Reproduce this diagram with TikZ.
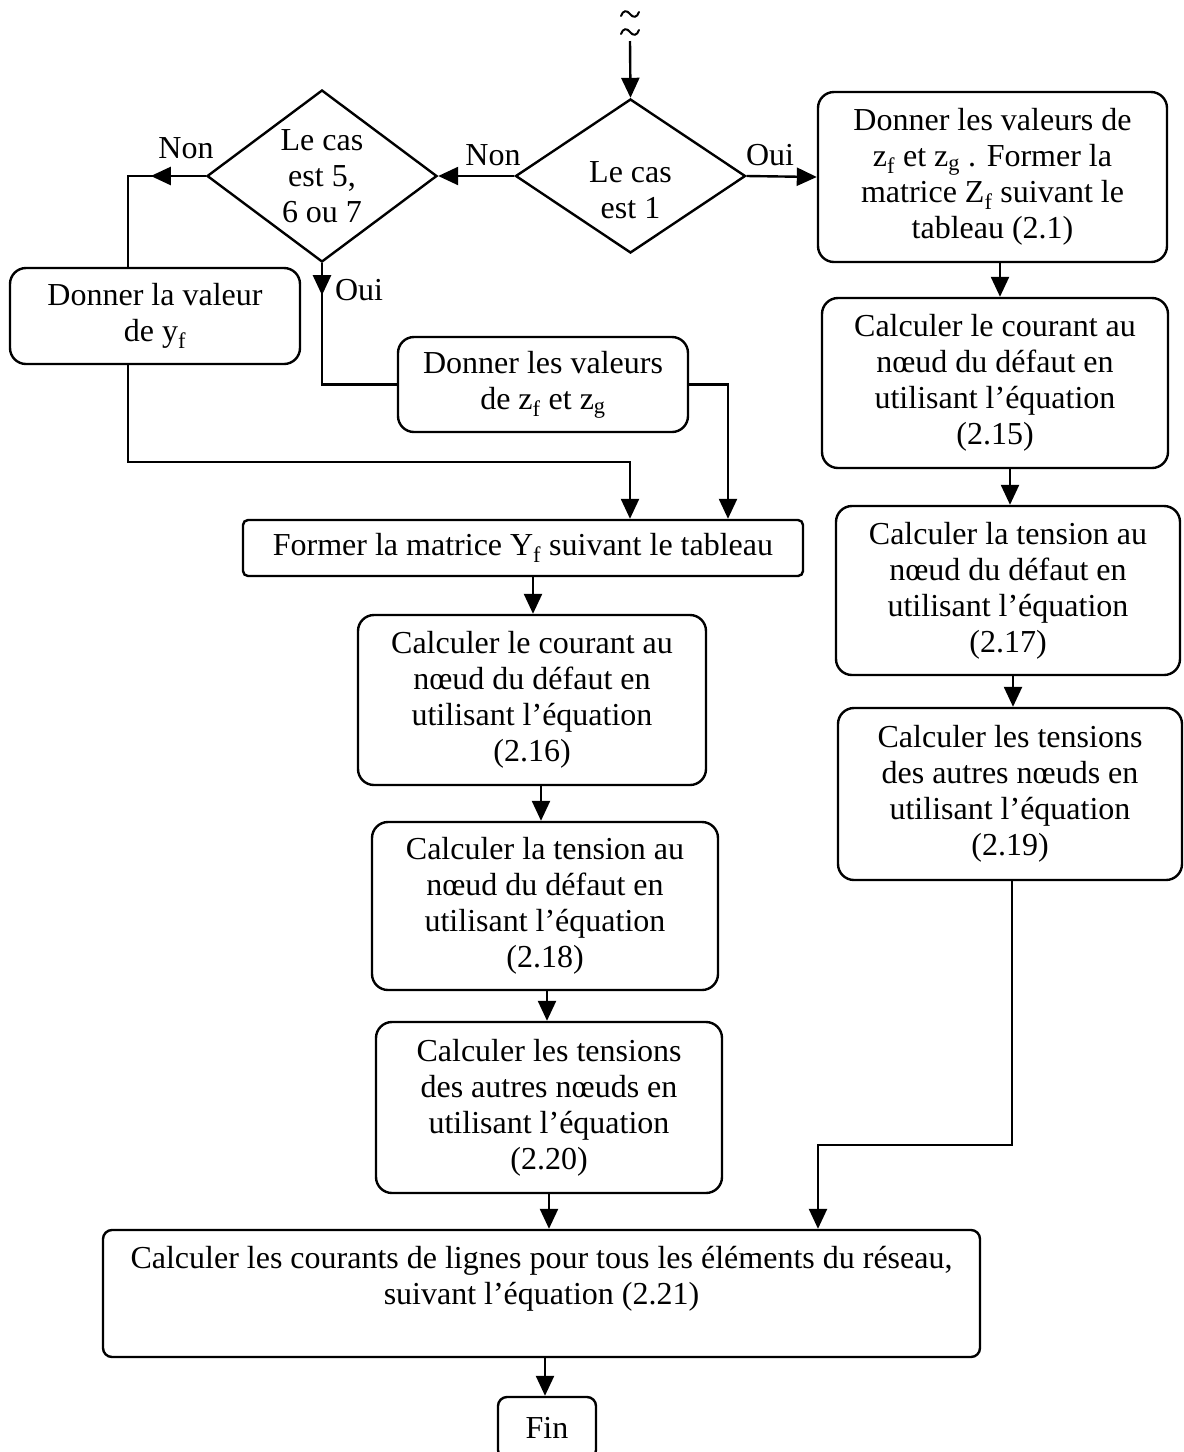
\documentclass[tikz,border=0pt]{standalone}
\usepackage{fontspec}
\setmainfont{Liberation Serif}
\usetikzlibrary{shapes.geometric,arrows.meta,decorations.markings}
\begin{document}
\begin{tikzpicture}[x=1pt,y=-1pt,
  every node/.style={font=\fontsize{32}{36}\selectfont},
  sz/.style 2 args={minimum width=#1pt,minimum height=#2pt},
  stepbox/.style={draw,line width=2.4pt,rounded corners=16pt,align=center,inner sep=0pt},
  decision/.style={draw,shape=diamond,line width=2.4pt,inner sep=0pt},
  wave/.style={line width=2pt,line cap=round},
  tip/.tip={Triangle[length=20pt,width=18pt]},
  ln/.style={line width=2.4pt},
  arr/.style={line width=2.4pt,-tip},
  midarr/.style={postaction={decorate},decoration={markings,
    mark=at position #1 with {\arrow{tip}}}}]

\useasboundingbox (0,0) rectangle (1184,1452);

% break mark: two stacked tildes above the entry arrow
\foreach \yy in {14,32} {
  \draw[wave] (621,\yy+2) .. controls (623,\yy-4) and (627,\yy-4) .. (630,\yy)
              .. controls (633,\yy+4) and (637,\yy+4) .. (639,\yy-2);
}
\coordinate (brk) at (630,41);

% decisions
\node[decision,sz={230}{154},label={[align=center,yshift=-14pt]center:Le cas\\est 1}] (d1) at (630.5,176) {};
\node[decision,sz={230}{172},label={[align=center]center:Le cas\\est 5,\\6 ou 7}] (d2) at (322,176) {};

\node (non1) at (186,148) {Non};
\node (non2) at (493,155) {Non};
\node (oui1) at (770,155) {Oui};
\node (oui2) at (359,290) {Oui};

% left branch
\node[stepbox,sz={290}{96}] (ybox) at (155,316) {Donner la valeur\\de y\textsubscript{f}};
\node[stepbox,sz={290}{95}] (zbox) at (543,384.5) {Donner les valeurs\\de z\textsubscript{f} et z\textsubscript{g}};
\node[stepbox,rounded corners=5pt,sz={560}{56}] (yf) at (523,548) {Former la matrice Y\textsubscript{f} suivant le tableau};
\node[stepbox,sz={348}{170}] (c1) at (532,700) {Calculer le courant au\\nœud du défaut en\\utilisant l’équation\\(2.16)};
\node[stepbox,sz={346}{168}] (c2) at (545,906) {Calculer la tension au\\nœud du défaut en\\utilisant l’équation\\(2.18)};
\node[stepbox,sz={346}{171}] (c3) at (549,1107.5) {Calculer les tensions\\des autres nœuds en\\utilisant l’équation\\(2.20)};

% right branch
\node[stepbox,sz={349}{170}] (r1) at (992.5,177) {Donner les valeurs de\\z\textsubscript{f} et z\textsubscript{g} . Former la\\matrice Z\textsubscript{f} suivant le\\tableau (2.1)};
\node[stepbox,sz={346}{170}] (r2) at (995,383) {Calculer le courant au\\nœud du défaut en\\utilisant l’équation\\(2.15)};
\node[stepbox,sz={344}{169}] (r3) at (1008,590.5) {Calculer la tension au\\nœud du défaut en\\utilisant l’équation\\(2.17)};
\node[stepbox,sz={344}{172}] (r4) at (1010,794) {Calculer les tensions\\des autres nœuds en\\utilisant l’équation\\(2.19)};

% common end
\node[stepbox,rounded corners=9pt,sz={877}{127}] (bot) at (541.5,1293.5) {Calculer les courants de lignes pour tous les éléments du réseau,\\suivant l’équation (2.21)\\\mbox{}};
\node[stepbox,rounded corners=9pt,sz={98}{62}] (fin) at (547,1428) {Fin};

% junction points
\coordinate (j1) at (630,462);
\coordinate (j2) at (818,1145);

% connectors
\draw[arr] (brk) -- (d1.north);
\draw[arr] (d1.west) -- (d2.east);
\draw[arr] (d1.east) -- (r1.west);
\draw[ln,midarr=55pt] (d2.west) -| (ybox.north -| 128,0);
\draw[ln,midarr=32pt] (d2.south) |- (zbox.west);
\draw[arr] (ybox.south -| 128,0) |- (j1) -- (yf.north -| j1);
\draw[arr] (zbox.east) -| (yf.north -| 728,0);
\draw[arr] (yf.south -| 533,0) -- (c1.north -| 533,0);
\draw[arr] (c1.south -| 541,0) -- (c2.north -| 541,0);
\draw[arr] (c2.south -| 547,0) -- (c3.north -| 547,0);
\draw[arr] (c3.south -| 549,0) -- (bot.north -| 549,0);
\draw[arr] (r1.south -| 1000,0) -- (r2.north -| 1000,0);
\draw[arr] (r2.south -| 1010,0) -- (r3.north -| 1010,0);
\draw[arr] (r3.south -| 1013,0) -- (r4.north -| 1013,0);
\draw[arr] (r4.south -| 1012,0) |- (j2) -- (bot.north -| j2);
\draw[arr] (bot.south -| 545,0) -- (fin.north -| 545,0);
\end{tikzpicture}
\end{document}
